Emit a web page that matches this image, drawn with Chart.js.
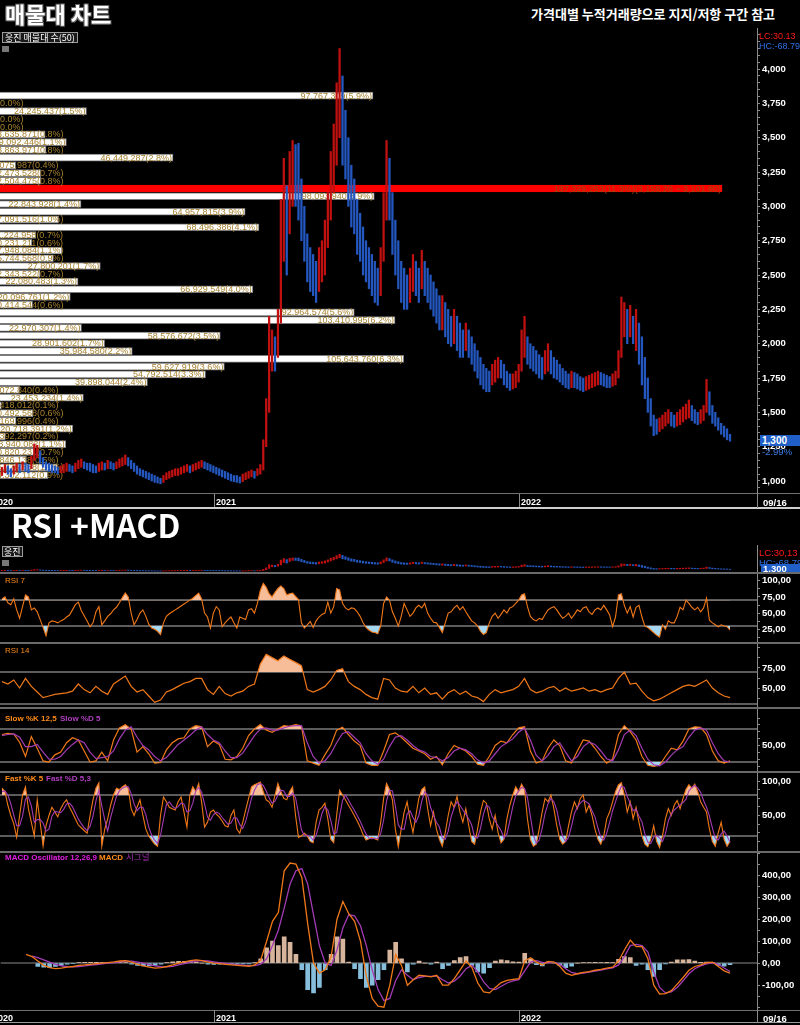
<!DOCTYPE html>
<html>
<head>
<meta charset="utf-8">
<title>매물대 차트 / RSI +MACD</title>
<script src="https://cdn.jsdelivr.net/npm/chart.js@4.4.1/dist/chart.umd.min.js"></script>
<style>
  html, body { margin: 0; padding: 0; background: #000; }
  #wrap { position: relative; width: 800px; height: 1025px; overflow: hidden; background: #000; }
  canvas { position: absolute; }
  .txt { position: absolute; white-space: nowrap; font-family: 'Liberation Sans', sans-serif; line-height: 1; }
  .kr { font-family: 'Noto Sans CJK KR', sans-serif; }
  .hl { position: absolute; left: 0; width: 800px; }
  .vl { position: absolute; width: 1px; background: #8a8a8a; }
</style>
</head>
<body>
<div id="wrap">
  <canvas id="profileChart" width="808" height="480" style="left:-8px;top:28px"></canvas>
  <canvas id="priceChart" width="800" height="480" style="left:0;top:28px"></canvas>
  <canvas id="miniChart" width="800" height="28" style="left:0;top:545px"></canvas>
  <canvas id="rsi7Chart" width="800" height="70" style="left:0;top:573px"></canvas>
  <canvas id="rsi14Chart" width="800" height="65" style="left:0;top:643px"></canvas>
  <canvas id="slowChart" width="800" height="64" style="left:0;top:708px"></canvas>
  <canvas id="fastChart" width="800" height="80" style="left:0;top:772px"></canvas>
  <canvas id="macdChart" width="800" height="173" style="left:0;top:852px"></canvas>

  <!-- titles -->
  <div class="txt kr" style="left:5px;top:2px;font-size:22px;font-weight:700;color:#fff;text-shadow:-1px -1px 0 #666,1px -1px 0 #666,-1px 1px 0 #666,1px 1px 0 #666">매물대 차트</div>
  <div class="txt kr" style="left:531px;top:7px;font-size:13px;font-weight:700;color:#fff">가격대별 누적거래량으로 지지/저항 구간 참고</div>
  <div class="txt kr" style="left:2px;top:32px;font-size:9px;color:#fff;background:#1a1a1a;border:1px solid #9a9a9a;padding:0 2px">웅진 매물대 수(50)</div>
  <div style="position:absolute;left:2px;top:46px;width:7px;height:6px;background:#777"></div>
  <div class="txt kr" style="left:11px;top:508px;font-size:32px;font-weight:700;color:#fff">RSI +MACD</div>
  <div class="txt kr" style="left:2px;top:546px;font-size:9px;color:#fff;background:#1a1a1a;border:1px solid #9a9a9a;padding:0 1px">웅진</div>
  <div style="position:absolute;left:2px;top:560px;width:7px;height:6px;background:#777"></div>

  <!-- right side price info -->
  <div class="txt" style="left:759px;top:32px;font-size:9px;color:#ff1a1a">LC:30.13</div>
  <div class="txt" style="left:759px;top:42px;font-size:9px;color:#2f72e6">HC:-68.79</div>
  <div class="txt" style="left:760px;top:435px;width:40px;height:11px;background:#1f5fc7;color:#fff;font-size:10px;font-weight:700;padding-left:2px;box-sizing:border-box;line-height:11px">1,300</div>
  <div class="txt" style="left:762px;top:447px;font-size:9.5px;color:#3b7be6">-2.99%</div>
  <div class="txt" style="left:759px;top:548px;font-size:9.5px;color:#ff1a1a">LC:30,13</div>
  <div class="txt" style="left:759px;top:558px;font-size:9.5px;color:#2f72e6">HC:-68,79</div>
  <div class="txt" style="left:761px;top:564px;width:39px;height:9px;background:#1f5fc7;color:#fff;font-size:9.5px;font-weight:700;padding-left:2px;box-sizing:border-box;line-height:9px">1,300</div>

  <!-- panel labels -->
  <div class="txt" style="left:5px;top:577px;font-size:8px;color:#ff8c1a">RSI 7</div>
  <div class="txt" style="left:5px;top:647px;font-size:8px;color:#ff8c1a">RSI 14</div>
  <div class="txt" style="left:5px;top:715px;font-size:8px;font-weight:700;color:#ff8c1a">Slow %K 12,5</div>
  <div class="txt" style="left:60px;top:715px;font-size:8px;font-weight:700;color:#b040c0">Slow %D 5</div>
  <div class="txt" style="left:5px;top:775px;font-size:8px;font-weight:700;color:#ff8c1a">Fast %K 5</div>
  <div class="txt" style="left:46px;top:775px;font-size:8px;font-weight:700;color:#b040c0">Fast %D 5,3</div>
  <div class="txt" style="left:5px;top:854px;font-size:8px;font-weight:700;color:#e020e0">MACD Oscillator 12,26,9</div>
  <div class="txt" style="left:99px;top:854px;font-size:8px;font-weight:700;color:#ff8c1a">MACD</div>
  <div class="txt kr" style="left:126px;top:852px;font-size:8.5px;color:#a030b0">시그널</div>

  <!-- separators -->
  <div class="hl" style="top:493px;height:1px;background:#707070"></div>
  <div class="hl" style="top:507px;height:2px;background:#cfcfcf"></div>
  <div class="hl" style="top:572px;height:2px;background:#6a6a6a"></div>
  <div class="hl" style="top:642px;height:2px;background:#6a6a6a"></div>
  <div class="hl" style="top:707px;height:2px;background:#6a6a6a"></div>
  <div class="hl" style="top:771px;height:2px;background:#6a6a6a"></div>
  <div class="hl" style="top:851px;height:2px;background:#6a6a6a"></div>
  <div class="hl" style="top:1010px;height:1px;background:#707070"></div>
  <div class="hl" style="top:1022px;height:1px;background:#9a9a9a"></div>
  <div class="vl" style="left:757px;top:493px;height:15px"></div>
  <div class="vl" style="left:757px;top:1010px;height:13px"></div>
  <div class="vl" style="left:757px;top:545px;height:2px"></div>
</div>

<script>
// ---- price: half-week bars, late Apr 2020 .. 16 Sep 2022 ----
const highs = [
  1100,1120,1110,1090,1110,1130,1120,1140,1130,1120,
  1180,1270,1260,1220,1170,1140,1130,1120,1110,1100,
  1110,1120,1130,1120,1110,1130,1150,1160,1140,1130,
  1130,1120,1110,1130,1140,1130,1150,1140,1130,1140,
  1160,1170,1190,1170,1150,1130,1110,1090,1080,1070,
  1060,1050,1040,1030,1020,1040,1060,1070,1080,1090,
  1090,1100,1110,1120,1110,1120,1130,1140,1150,1140,
  1130,1120,1110,1100,1090,1080,1070,1060,1050,1040,
  1040,1030,1050,1060,1070,1080,1070,1090,
  1120,1300,1600,2200,2100,2050,2250,3050,3350,3150,3400,3480,
  3450,3460,3200,3000,2800,2700,2650,2600,2700,2750,
  2900,3100,3400,3600,3900,4150,3950,3700,3500,3300,
  3200,3050,2950,2850,2750,2700,2650,2600,2550,2700,
  3100,3480,3350,3100,2900,2750,2600,2550,2500,2550,
  2650,2600,2550,2680,2600,2550,2500,2450,2400,2350,
  2350,2300,2250,2200,2250,2200,2150,2100,2150,2100,
  2050,2000,1950,1900,1850,1820,1800,1850,1880,1900,
  1880,1850,1800,1780,1780,1800,1850,2100,2200,2050,
  2000,1980,1950,1920,1900,1950,2000,1950,1900,1880,
  1850,1820,1800,1780,1800,1790,1780,1760,1750,1760,
  1770,1780,1790,1800,1790,1780,1770,1760,1780,1800,
  1950,2340,2300,2250,2280,2200,2250,2150,2050,1900,
  1750,1600,1480,1450,1460,1480,1500,1520,1500,1480,
  1500,1520,1540,1560,1590,1550,1520,1500,1520,1550,
  1740,1650,1550,1500,1460,1420,1400,1380,1340
];
const lows = [
  1040,1060,1050,1030,1050,1070,1060,1080,1070,1060,
  1090,1150,1170,1130,1100,1080,1070,1060,1060,1050,
  1060,1060,1070,1070,1060,1070,1090,1100,1090,1080,
  1070,1060,1060,1070,1080,1080,1090,1090,1080,1090,
  1100,1110,1120,1110,1090,1070,1050,1040,1030,1020,
  1010,1000,990,985,980,990,1010,1020,1030,1040,
  1040,1050,1060,1070,1060,1070,1080,1090,1100,1090,
  1080,1070,1060,1050,1040,1030,1020,1010,1000,995,
  990,985,995,1010,1020,1030,1020,1040,
  1050,1080,1250,1500,1800,1800,1900,2150,2600,2500,2800,3000,
  3000,2900,2750,2600,2450,2380,2350,2300,2380,2450,
  2500,2700,2900,3100,3300,3500,3300,3200,3000,2850,
  2800,2650,2600,2500,2450,2400,2350,2300,2280,2350,
  2600,2900,2900,2650,2500,2400,2300,2250,2250,2300,
  2380,2350,2300,2400,2350,2300,2250,2200,2150,2100,
  2100,2050,2000,1980,2000,1950,1900,1900,1950,1900,
  1850,1800,1750,1700,1670,1650,1650,1700,1720,1750,
  1750,1700,1680,1660,1670,1680,1720,1800,1900,1850,
  1820,1800,1780,1750,1740,1780,1800,1780,1750,1740,
  1720,1700,1680,1670,1680,1680,1670,1660,1650,1660,
  1670,1680,1690,1700,1700,1690,1680,1680,1690,1700,
  1750,1900,2050,2000,2050,2000,1950,1850,1700,1600,
  1500,1400,1330,1340,1360,1380,1400,1420,1400,1390,
  1400,1410,1430,1450,1460,1440,1420,1410,1420,1440,
  1500,1480,1420,1400,1370,1340,1320,1300,1290
];

// ---- volume profile, 50 bins from the bottom ----
const binLow = 1015.0;
const binSize = 56.4;
const binVolumes = [
  14302112, 16776858, 8846138, 10820231, 18940082, 3392297, 20718391, 6169996, 10492568, 2418012,
  23453234, 7072840, 39898044, 54792514, 59627919, 105643760, 35984580, 28901602, 58576672, 22970307,
  103410995, 92964574, 10414544, 20096761, 66929549, 22080483, 12343522, 27800201, 15744568, 17948084,
  10231211, 11224958, 68496386, 17091516, 64957815, 22843928, 98093940, 187329253, 12504475, 12473528,
  6075987, 46449287, 13863971, 19092446, 13635871, 0, 0, 24245437, 0, 97767309
];
const binPercents = [
  '0.9', '1.0', '0.5', '0.7', '1.1', '0.2', '1.2', '0.4', '0.6', '0.1',
  '1.4', '0.4', '2.4', '3.3', '3.6', '6.3', '2.2', '1.7', '3.5', '1.4',
  '6.2', '5.6', '0.6', '1.2', '4.0', '1.3', '0.7', '1.7', '0.9', '1.1',
  '0.6', '0.7', '4.1', '1.0', '3.9', '1.4', '5.9', '11.3', '0.8', '0.7',
  '0.4', '2.8', '0.8', '1.1', '0.8', '0.0', '0.0', '1.5', '0.0', '5.9'
];

// ---- fast indicators, half-week samples ----
const rsi7 = [
  72, 75, 66, 63, 72, 55, 42, 60, 78, 75,
  55, 58, 52, 40, 28, 15, 35, 38, 37, 35,
  38, 40, 44, 47, 55, 63, 67, 54, 46, 38,
  29, 35, 52, 60, 32, 38, 45, 49, 55, 59,
  66, 74, 81, 75, 50, 32, 40, 50, 55, 45,
  33, 27, 25, 22, 17, 35, 45, 49, 52, 55,
  58, 61, 64, 67, 70, 73, 77, 81, 72, 50,
  44, 27, 50, 60, 55, 29, 35, 40, 44, 35,
  27, 44, 42, 40, 55, 57, 50, 65, 85, 96,
  90, 80, 75, 82, 88, 92, 88, 78, 80, 81,
  76, 71, 35, 27, 32, 37, 28, 38, 44, 48,
  50, 67, 50, 60, 88, 86, 65, 58, 55, 58,
  57, 52, 45, 35, 28, 24, 21, 20, 18, 30,
  65, 75, 70, 52, 42, 30, 45, 65, 55, 45,
  50, 58, 62, 58, 65, 50, 42, 36, 35, 28,
  20, 35, 50, 52, 58, 62, 55, 60, 52, 45,
  38, 35, 30, 22, 17, 20, 35, 45, 50, 42,
  48, 55, 50, 58, 60, 65, 70, 78, 80, 60,
  45, 40, 38, 42, 40, 48, 55, 58, 60, 55,
  48, 42, 45, 50, 42, 48, 55, 52, 58, 60,
  52, 48, 55, 58, 55, 62, 55, 47, 29, 44,
  78, 80, 62, 50, 60, 44, 59, 62, 44, 30,
  28, 24, 20, 16, 13, 32, 25, 38, 35, 35,
  45, 59, 55, 70, 65, 59, 55, 59, 52, 58,
  73, 39, 35, 32, 29, 32, 30, 29, 24
];
const fastK = [
  90, 85, 65, 50, 38, 18, 50, 80, 92, 60,
  40, 20, 73, 40, 5, 35, 50, 62, 55, 48,
  60, 68, 73, 62, 54, 45, 36, 32, 28, 24,
  50, 73, 90, 98, 5, 30, 45, 65, 80, 90,
  88, 92, 95, 90, 60, 50, 62, 73, 50, 30,
  20, 14, 8, 5, 50, 77, 70, 62, 60, 58,
  70, 77, 55, 33, 80, 92, 85, 97, 70, 33,
  40, 55, 58, 52, 48, 42, 35, 33, 50, 58,
  30, 24, 40, 58, 75, 92, 95, 97, 99, 85,
  73, 70, 62, 80, 97, 85, 75, 73, 85, 92,
  50, 18, 20, 24, 20, 12, 10, 40, 58, 62,
  68, 45, 15, 10, 50, 87, 80, 73, 65, 58,
  50, 42, 33, 22, 14, 16, 18, 16, 14, 40,
  75, 97, 88, 73, 30, 4, 30, 55, 70, 45,
  25, 50, 75, 88, 92, 60, 35, 55, 30, 15,
  5, 25, 50, 70, 62, 78, 55, 40, 60, 35,
  12, 8, 30, 55, 72, 68, 45, 30, 50, 25,
  10, 15, 45, 65, 80, 92, 85, 96, 88, 45,
  15, 5, 8, 30, 55, 75, 70, 80, 60, 35,
  15, 8, 12, 35, 55, 70, 60, 75, 80, 55,
  65, 50, 30, 15, 8, 20, 45, 55, 70, 85,
  95, 98, 80, 55, 70, 45, 62, 40, 20, 8,
  4, 15, 35, 12, 3, 20, 45, 60, 50, 65,
  72, 60, 75, 88, 95, 90, 96, 85, 70, 62,
  55, 30, 12, 5, 25, 40, 15, 5, 12
];
const fastD = [
  85, 86, 80, 67, 51, 35, 35, 49, 74, 77,
  64, 40, 44, 44, 39, 27, 30, 49, 56, 55,
  54, 59, 67, 68, 63, 54, 45, 38, 32, 28,
  34, 49, 71, 87, 64, 44, 27, 47, 63, 78,
  86, 90, 92, 92, 82, 67, 57, 62, 62, 51,
  33, 21, 14, 9, 21, 44, 66, 70, 64, 60,
  63, 68, 67, 55, 57, 68, 86, 91, 84, 67,
  48, 43, 51, 55, 53, 47, 42, 37, 39, 47,
  46, 37, 31, 41, 58, 75, 87, 95, 97, 94,
  86, 76, 68, 71, 80, 87, 86, 78, 78, 83,
  76, 53, 29, 21, 21, 19, 14, 21, 36, 53,
  63, 58, 43, 23, 25, 49, 72, 80, 73, 65,
  58, 50, 42, 32, 23, 17, 16, 17, 16, 23,
  43, 71, 87, 86, 64, 36, 30, 30, 52, 57,
  47, 40, 50, 71, 85, 80, 62, 50, 40, 33,
  17, 15, 27, 48, 61, 70, 65, 58, 52, 45,
  36, 18, 17, 31, 52, 65, 62, 48, 42, 35,
  28, 17, 23, 42, 63, 79, 86, 91, 90, 76,
  49, 22, 9, 14, 31, 53, 67, 75, 70, 58,
  37, 19, 12, 18, 34, 53, 62, 68, 72, 70,
  67, 57, 48, 32, 18, 14, 24, 40, 57, 70,
  83, 93, 91, 78, 68, 57, 59, 49, 41, 23,
  11, 9, 18, 21, 17, 12, 23, 42, 52, 58,
  62, 66, 69, 74, 86, 91, 94, 90, 84, 72,
  62, 49, 32, 16, 14, 23, 27, 20, 11
];

// ---- slower indicators, weekly samples ----
const rsi14 = [
  58, 55, 60, 50, 62, 52, 45, 38, 40, 42,
  43, 44, 46, 55, 48, 44, 52, 46, 42, 55,
  60, 65, 52, 45, 48, 40, 32, 35, 45, 48,
  52, 56, 58, 62, 62, 48, 42, 52, 43, 40,
  44, 46, 52, 55, 80, 92, 88, 84, 90, 86,
  82, 78, 48, 45, 48, 52, 60, 72, 74, 58,
  52, 48, 42, 38, 36, 62, 60, 50, 46, 45,
  52, 44, 50, 42, 44, 36, 44, 48, 42, 46,
  40, 38, 33, 42, 48, 44, 46, 48, 52, 62,
  48, 44, 46, 50, 52, 46, 50, 46, 48, 50,
  46, 48, 45, 48, 50, 62, 70, 55, 56, 46,
  38, 34, 36, 40, 44, 48, 52, 54, 52, 56,
  60, 50, 44, 40, 38
];
const slowK = [
  70, 72, 71, 56, 30, 66, 45, 22, 20, 33,
  38, 55, 64, 60, 40, 20, 22, 38, 22, 60,
  82, 88, 80, 38, 48, 35, 18, 19, 42, 55,
  62, 64, 80, 86, 84, 48, 58, 52, 25, 24,
  30, 45, 68, 80, 88, 78, 74, 80, 86, 85,
  88, 86, 22, 18, 14, 33, 50, 78, 83, 70,
  58, 50, 18, 14, 14, 40, 70, 73, 65, 55,
  45, 40, 35, 25, 30, 15, 35, 50, 45, 40,
  30, 16, 14, 30, 50, 58, 55, 70, 82, 84,
  40, 18, 22, 45, 60, 50, 22, 18, 40, 60,
  58, 45, 30, 18, 25, 70, 86, 75, 60, 30,
  14, 12, 14, 30, 45, 42, 58, 80, 84, 83,
  70, 40, 22, 18, 22
];
const slowD = [
  68, 70, 71, 65, 48, 48, 52, 38, 25, 25,
  30, 42, 52, 60, 55, 38, 26, 28, 30, 40,
  62, 78, 84, 65, 50, 42, 30, 22, 28, 40,
  52, 60, 68, 78, 84, 70, 60, 55, 40, 28,
  28, 36, 52, 68, 80, 82, 78, 78, 82, 85,
  86, 86, 55, 30, 18, 22, 35, 55, 72, 75,
  65, 55, 35, 22, 16, 25, 48, 65, 68, 60,
  50, 42, 38, 30, 28, 22, 28, 40, 45, 42,
  35, 24, 18, 22, 35, 48, 55, 62, 74, 82,
  60, 32, 22, 32, 48, 55, 38, 22, 30, 48,
  56, 52, 40, 26, 22, 42, 70, 78, 68, 45,
  25, 15, 13, 20, 32, 42, 48, 65, 78, 82,
  78, 55, 35, 22, 20
];
const macd = [
  null, null, null, null, 40, 30, 10, -10, -20, -25,
  -22, -18, -15, -10, -8, -5, -2, 0, 3, 6,
  10, 12, 5, -5, -12, -18, -22, -20, -15, -8,
  0, 6, 12, 15, 12, 5, 0, -2, -5, -8,
  -10, -12, -14, -8, 15, 100, 190, 230, 420, 455,
  450, 390, 180, 0, -45, -30, 30, 200, 280, 225,
  190, 100, -60, -160, -195, -200, -100, 40, -10, -100,
  -75, -55, -58, -62, -55, -100, -100, -70, -30, 10,
  -20, -90, -130, -135, -110, -88, -78, -74, -70, 10,
  25, 5, -8, 8, 5, -15, -45, -55, -48, -42,
  -38, -32, -28, -22, -18, 10, 60, 105, 75, 75,
  20, -100, -140, -138, -125, -95, -65, -32, -15, -8,
  2, 5, -15, -35, -45
];
const signal = [
  null, null, null, null, null, 32, 25, 15, 5, -5,
  -12, -16, -17, -15, -12, -9, -6, -3, 0, 3,
  6, 9, 9, 5, 0, -6, -12, -16, -17, -14,
  -8, -2, 5, 10, 12, 10, 6, 2, -1, -4,
  -7, -9, -11, -11, -4, 20, 80, 150, 250, 360,
  420, 430, 360, 220, 80, 0, -10, 60, 160, 220,
  215, 170, 80, -30, -120, -170, -160, -80, -30, -55,
  -75, -65, -60, -60, -58, -75, -90, -82, -58, -25,
  -10, -40, -85, -115, -120, -105, -90, -80, -75, -35,
  5, 12, 4, 2, 4, -5, -25, -42, -48, -45,
  -41, -36, -31, -26, -21, -8, 30, 80, 85, 80,
  50, -40, -110, -135, -130, -110, -80, -48, -25, -12,
  -3, 2, -5, -22, -38
];
const oscillator = [
  null, null, null, null, null, null, -15, -18, -20, -15,
  -10, -5, -2, 3, 4, 4, 4, 3, 3, 3,
  4, 3, -4, -10, -12, -12, -10, -4, 2, 6,
  8, 8, 7, 5, 0, -5, -6, -4, -4, -4,
  -3, -3, -3, 3, 20, 70, 100, 80, 120, 95,
  40, -30, -120, -135, -110, -30, 40, 120, 110, 5,
  -25, -70, -110, -100, -75, -30, 60, 95, 20, -40,
  -5, 10, 0, -5, 5, -25, -10, 12, 25, 30,
  -10, -40, -45, -20, 10, 15, 12, 6, 5, 45,
  20, -7, -12, 6, 1, -10, -20, -13, 0, 3,
  3, 4, 3, 4, 3, 18, 30, 25, -10, -5,
  -30, -60, -30, -3, 5, 15, 15, 16, 10, 4,
  5, 3, -10, -13, -7
];

// ---- axis labels (positions in half-week slots) ----
const yearLabels = ['2020', '2021', '2022'];
const yearSlots = [-3.8, 72.2, 176.2];
const lastDateLabel = '09/16';

// ---- colours ----
const UP = '#c01010';
const DOWN = '#2458c0';
const ORANGE = '#f07818';
const PURPLE = '#a23cb4';
const PEACH = '#f7bc98';
const SKY = '#a5d8f0';
const NONE = 'rgba(0,0,0,0)';

Chart.defaults.font.family = "'Liberation Sans', sans-serif";

// shared horizontal layout: plot area 0..757, axis column 757..800
const X_MIN = -0.68, X_MAX = 257.2;
const AXIS_W = 43;

function xAxis() {
  return { type: 'linear', min: X_MIN, max: X_MAX, display: false, offset: false };
}

function decimalLabel(v) {
  return v.toFixed(2).replace('.', ',');
}

function rightAxis(min, max, ticks, labelled, fmt) {
  return {
    type: 'linear', position: 'right', min: min, max: max, offset: false,
    afterBuildTicks: s => { s.ticks = ticks.map(v => ({ value: v })); },
    afterFit: s => { s.width = AXIS_W; s.paddingTop = 0; s.paddingBottom = 0; },
    border: { display: true, color: '#8a8a8a', width: 1 },
    grid: { drawOnChartArea: false, drawTicks: true, tickLength: 3, color: '#8a8a8a' },
    ticks: {
      autoSkip: false, padding: 2, color: '#ffffff',
      font: { size: 9.5, weight: 'bold' },
      callback: v => labelled.includes(v) ? fmt(v) : ''
    }
  };
}

// half-week series sit on every slot, weekly ones on every second slot
function halfWeekly(values) {
  return values.map((v, i) => ({ x: i, y: v }));
}
function weekly(values) {
  return values.map((v, i) => ({ x: i * 2, y: v }));
}

function candleColors() {
  const mid = highs.map((h, i) => (h + lows[i]) / 2);
  return mid.map((m, i) => (i === 0 || m >= mid[i - 1]) ? UP : DOWN);
}

// horizontal guide lines (70/30, 80/20, 0)
const levelLines = {
  id: 'levelLines',
  beforeDatasetsDraw(chart, args, opts) {
    if (!opts.values) return;
    const { ctx, chartArea } = chart;
    const y = chart.scales.y;
    ctx.save();
    ctx.strokeStyle = opts.color || '#5c5c5c';
    ctx.lineWidth = opts.width || 2;
    opts.values.forEach(v => {
      const py = Math.round(y.getPixelForValue(v));
      ctx.beginPath();
      ctx.moveTo(chartArea.left, py);
      ctx.lineTo(chartArea.right, py);
      ctx.stroke();
    });
    ctx.restore();
  }
};

// volume text at the end of each profile bar
const profileLabels = {
  id: 'profileLabels',
  afterDatasetsDraw(chart) {
    const meta = chart.getDatasetMeta(0);
    const { ctx, chartArea } = chart;
    const maxIdx = binVolumes.indexOf(Math.max(...binVolumes));
    ctx.save();
    ctx.font = '9px "Liberation Sans"';
    ctx.textBaseline = 'middle';
    meta.data.forEach((bar, i) => {
      let text = binVolumes[i].toLocaleString('en-US') + '(' + binPercents[i] + '%)';
      if (i === maxIdx) {
        const hi = binLow + binSize * (i + 1);
        const lo = binLow + binSize * i;
        const f = v => v.toLocaleString('en-US', { minimumFractionDigits: 2, maximumFractionDigits: 2 });
        text += '(' + f(hi) + ' ~ ' + f(lo) + ')';
      }
      const w = ctx.measureText(text).width;
      const start = Math.max(bar.x - w - 1, chartArea.left);
      ctx.fillStyle = i === maxIdx ? '#9a4a10' : '#a8822f';
      ctx.fillText(text, start, bar.y + 0.5);
    });
    ctx.restore();
  }
};

const baseOptions = {
  responsive: false, animation: false, devicePixelRatio: 1,
  events: []
};

// ---- price panel ----
const P_MIN = 912.6, P_MAX = 4299.2;
const priceTicks = [];
for (let v = 950; v <= 4250; v += 50) priceTicks.push(v);
const priceLabelled = [1000, 1250, 1500, 1750, 2000, 2250, 2500, 2750, 3000, 3250, 3500, 3750, 4000];

const profileMax = binVolumes.indexOf(Math.max(...binVolumes));
const profileChart = new Chart(document.getElementById('profileChart'), {
  type: 'bar',
  data: {
    datasets: [{
      data: binVolumes.map((v, i) => ({ x: v, y: binLow + binSize * (i + 0.5) })),
      backgroundColor: binVolumes.map((v, i) => i === profileMax ? '#ff0000' : '#ffffff'),
      borderColor: binVolumes.map((v, i) => i === profileMax ? '#ff0000' : '#7a7a7a'),
      borderWidth: 1,
      barThickness: 7
    }]
  },
  options: Object.assign({}, baseOptions, {
    indexAxis: 'y',
    layout: { padding: { left: 0, right: AXIS_W, top: 0, bottom: 15 } },
    plugins: { legend: { display: false }, tooltip: { enabled: false } },
    scales: {
      x: { type: 'linear', min: 0, max: 196.3e6, display: false, offset: false },
      y: { type: 'linear', min: P_MIN, max: P_MAX, display: false, offset: false }
    }
  }),
  plugins: [profileLabels]
});

const priceChart = new Chart(document.getElementById('priceChart'), {
  type: 'bar',
  data: {
    datasets: [{
      data: highs.map((h, i) => ({ x: i, y: [lows[i], h] })),
      backgroundColor: candleColors(),
      barThickness: 1.6,
      grouped: false
    }]
  },
  options: Object.assign({}, baseOptions, {
    layout: { padding: { left: 0, right: 0, top: 0, bottom: 15 } },
    plugins: { legend: { display: false }, tooltip: { enabled: false } },
    scales: {
      x: xAxis(),
      y: rightAxis(P_MIN, P_MAX, priceTicks, priceLabelled, v => v.toLocaleString('en-US'))
    }
  })
});

// ---- mini price strip ----
const miniChart = new Chart(document.getElementById('miniChart'), {
  type: 'bar',
  data: {
    datasets: [{
      data: highs.map((h, i) => ({ x: i, y: [lows[i], h] })),
      backgroundColor: candleColors(),
      barThickness: 1.5,
      grouped: false
    }]
  },
  options: Object.assign({}, baseOptions, {
    layout: { padding: 0 },
    plugins: { legend: { display: false }, tooltip: { enabled: false } },
    scales: {
      x: xAxis(),
      y: rightAxis(622, 5906, [], [], v => '')
    }
  })
});

// ---- oscillator panels ----
function lineSet(points, color, width) {
  return { type: 'line', data: points, borderColor: color, borderWidth: width || 1.2, pointRadius: 0, tension: 0, fill: false };
}
function bandFill(points, hi, lo) {
  return [
    { type: 'line', data: points, borderWidth: 0, pointRadius: 0, fill: { target: { value: hi }, above: PEACH, below: NONE } },
    { type: 'line', data: points, borderWidth: 0, pointRadius: 0, fill: { target: { value: lo }, above: NONE, below: SKY } }
  ];
}
function indicatorChart(id, datasets, min, max, ticks, labelled, levels, bottomPad) {
  return new Chart(document.getElementById(id), {
    type: 'line',
    data: { datasets: datasets },
    options: Object.assign({}, baseOptions, {
      layout: { padding: { left: 0, right: 0, top: 0, bottom: bottomPad || 0 } },
      plugins: { legend: { display: false }, tooltip: { enabled: false }, levelLines: { values: levels } },
      scales: { x: xAxis(), y: rightAxis(min, max, ticks, labelled, decimalLabel) }
    }),
    plugins: [levelLines]
  });
}

const pctTicks = [12.5, 25, 37.5, 50, 62.5, 75, 87.5, 100];

indicatorChart('rsi7Chart',
  [lineSet(halfWeekly(rsi7), ORANGE, 1.1)].concat(bandFill(halfWeekly(rsi7), 70, 30)),
  3.9, 111.9, pctTicks, [25, 50, 75, 100], [70, 30]);

indicatorChart('rsi14Chart',
  [lineSet(weekly(rsi14), ORANGE)].concat(bandFill(weekly(rsi14), 70, 30)),
  25, 106.25, [37.5, 50, 62.5, 75, 87.5, 100], [50, 75], [70, 30]);

indicatorChart('slowChart',
  [lineSet(weekly(slowD), PURPLE), lineSet(weekly(slowK), ORANGE)].concat(bandFill(weekly(slowK), 80, 20)),
  1.8, 118.2, pctTicks, [50], [80, 20]);

indicatorChart('fastChart',
  [lineSet(halfWeekly(fastD), PURPLE, 1.1), lineSet(halfWeekly(fastK), ORANGE, 1.1)].concat(bandFill(halfWeekly(fastK), 80, 20)),
  -3.5, 113.7, pctTicks, [50, 100], [80, 20]);

const macdTicks = [];
for (let v = -200; v <= 500; v += 50) macdTicks.push(v);
const macdChart = indicatorChart('macdChart', [
    lineSet(weekly(macd), ORANGE, 1.3),
    lineSet(weekly(signal), PURPLE, 1.3),
    {
      type: 'bar', data: weekly(oscillator),
      backgroundColor: oscillator.map(v => v !== null && v < 0 ? '#86bedc' : '#d7b49c'),
      barThickness: 4, grouped: false
    }
  ],
  -212.7, 502.3, macdTicks, [-100, 0, 100, 200, 300, 400], [0], 15);
macdChart.options.plugins.levelLines.width = 1;
macdChart.options.plugins.levelLines.color = '#8a8a8a';
macdChart.update();

// ---- date strips ----
const wrap = document.getElementById('wrap');
function addDiv(style, text) {
  const d = document.createElement('div');
  d.style.cssText = style;
  if (text) d.textContent = text;
  wrap.appendChild(d);
}
function dateStrip(chart, top) {
  const xs = chart.scales.x;
  yearSlots.forEach((s, i) => {
    const px = Math.round(xs.getPixelForValue(s));
    addDiv('position:absolute;left:' + px + 'px;top:' + top + 'px;width:1px;height:13px;background:#8a8a8a');
    addDiv('position:absolute;left:' + (px + 2) + 'px;top:' + (top + 3) + 'px;font:bold 9px "Liberation Sans";color:#fff;white-space:nowrap', yearLabels[i]);
  });
  addDiv('position:absolute;left:763px;top:' + (top + 3) + 'px;font:bold 9.5px "Liberation Sans";color:#fff', lastDateLabel);
}
dateStrip(priceChart, 494);
dateStrip(macdChart, 1010);
</script>
</body>
</html>
